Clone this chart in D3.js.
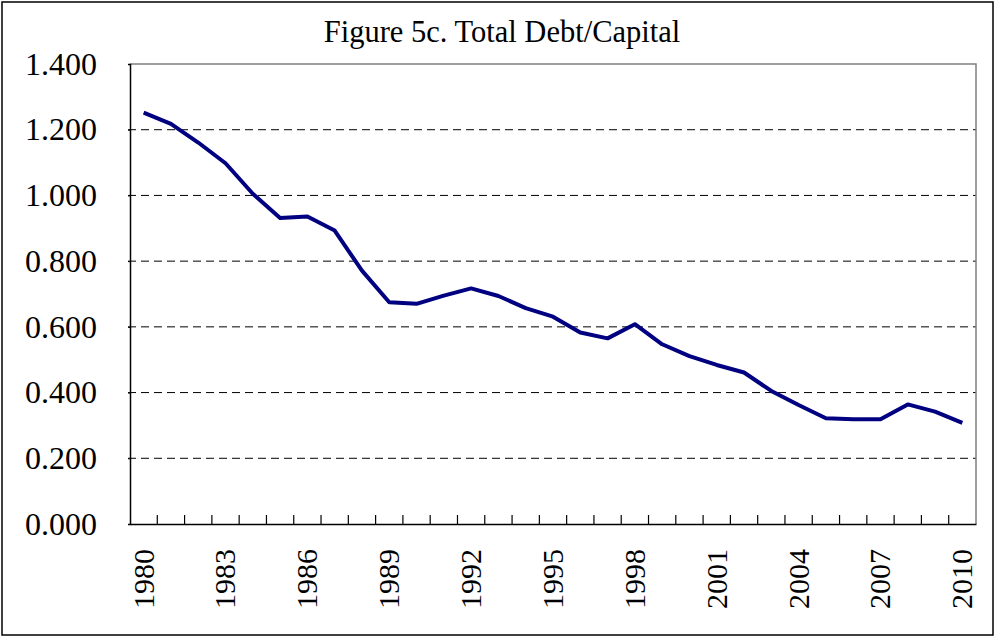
<!DOCTYPE html>
<html><head><meta charset="utf-8">
<script src="https://cdn.jsdelivr.net/npm/d3@7"></script>
<style>body{margin:0;background:#fff}</style>
</head><body>
<svg id="c" width="995" height="637"></svg>
<script>
const years = d3.range(1980, 2011).map(String);
const values = [1.252,1.218,1.161,1.098,1.005,0.931,0.936,0.893,0.771,0.675,0.670,0.695,0.717,0.694,0.657,0.631,0.583,0.565,0.608,0.547,0.511,0.484,0.461,0.405,0.362,0.322,0.319,0.319,0.364,0.342,0.308];
const yTicks = [0,0.2,0.4,0.6,0.8,1.0,1.2,1.4];
const xLabelYears = ["1980","1983","1986","1989","1992","1995","1998","2001","2004","2007","2010"];
const title = "Figure 5c. Total Debt/Capital";

const svg = d3.select("#c");
const font = "'Liberation Serif','Times New Roman',serif";
const L = 130, R = 976, T = 64, B = 524;

svg.append("rect").attr("x",2).attr("y",2).attr("width",991).attr("height",633)
  .attr("fill","#fff").attr("stroke","#000").attr("stroke-width",1.5);

const x = d3.scaleBand().domain(years).range([L,R]);
const y = d3.scaleLinear().domain([0,1.4]).range([B,T]);

// gridlines
svg.append("g").selectAll("line").data(yTicks.filter(v=>v>0&&v<1.4)).join("line")
  .attr("x1",L-2).attr("x2",R).attr("y1",d=>y(d)).attr("y2",d=>y(d))
  .attr("stroke","#000").attr("stroke-width",1).attr("stroke-dasharray","8,5");

// plot border top/right
svg.append("path").attr("d",`M${L},${T}H${R}V${B}`).attr("fill","none")
  .attr("stroke","#808080").attr("stroke-width",1.5);

// y axis
const ya = svg.append("g").attr("transform",`translate(${L},0)`)
  .call(d3.axisLeft(y).tickValues(yTicks).tickFormat(d3.format(".3f")).tickSize(2).tickPadding(31));
ya.select(".domain").attr("stroke","#000").attr("stroke-width",1.5);
ya.selectAll("text").attr("font-family",font).attr("font-size",32).attr("fill","#000");

// x axis
const xa = svg.append("g").attr("transform",`translate(0,${B})`)
  .call(d3.axisBottom(x).tickValues([]).tickSizeOuter(0));
xa.select(".domain").attr("stroke","#000").attr("stroke-width",1.5);
xa.selectAll(".bt").data(years.slice(1)).join("line")
  .attr("x1",d=>x(d)).attr("x2",d=>x(d)).attr("y1",0).attr("y2",-9)
  .attr("stroke","#000").attr("stroke-width",1.2);
svg.append("g").selectAll("text").data(xLabelYears).join("text")
  .attr("transform",d=>`translate(${x(d)+x.bandwidth()/2},549) rotate(-90)`)
  .attr("text-anchor","end").attr("dy","0.33em")
  .attr("font-family",font).attr("font-size",30).attr("fill","#000").text(d=>d);

// line
const line = d3.line().x((d,i)=>x(years[i])+x.bandwidth()/2).y(d=>y(d));
svg.append("path").datum(values).attr("d",line).attr("fill","none")
  .attr("stroke","#000080").attr("stroke-width",4).attr("stroke-linejoin","round");

svg.append("text").attr("x",502).attr("y",42).attr("text-anchor","middle")
  .attr("font-family",font).attr("font-size",30.5).attr("fill","#000").text(title);
</script>
</body></html>
